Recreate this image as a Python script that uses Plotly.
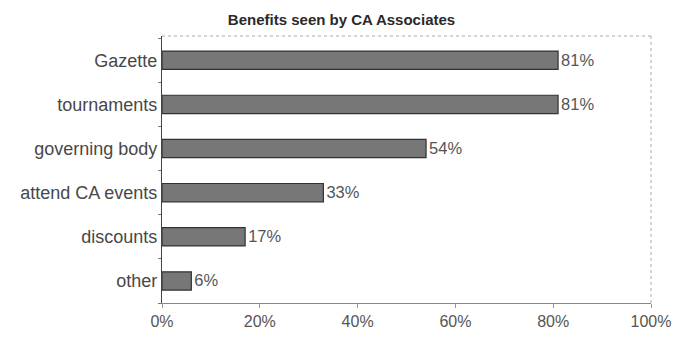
import plotly.graph_objects as go

categories = ["Gazette", "tournaments", "governing body", "attend CA events", "discounts", "other"]
values = [81, 81, 54, 33, 17, 6]
x_ticks = [0, 20, 40, 60, 80, 100]
x_tick_labels = ["0%", "20%", "40%", "60%", "80%", "100%"]

font_family = "Liberation Sans, Arial, sans-serif"

fig = go.Figure(
    go.Bar(
        y=categories,
        x=values,
        orientation="h",
        marker=dict(color="#777777", line=dict(color="#333333", width=1.2)),
        text=[f"{v}%" for v in values],
        textposition="outside",
        textfont=dict(family=font_family, size=18, color="#555555"),
        cliponaxis=False,
    )
)

fig.update_layout(
    width=683,
    height=342,
    margin=dict(l=162, r=28, t=36, b=29),
    paper_bgcolor="white",
    plot_bgcolor="white",
    bargap=0.585,
    showlegend=False,
    title=dict(
        text="<b>Benefits seen by CA Associates</b>",
        x=0.5,
        xanchor="center",
        y=1 - 20 / 342,
        yanchor="middle",
        font=dict(family=font_family, size=15, color="#2a2a2a"),
    ),
    font=dict(family=font_family, color="#444444"),
)

fig.update_xaxes(
    range=[0, 100],
    tickvals=x_ticks,
    ticktext=x_tick_labels,
    tickfont=dict(size=16, color="#555555"),
    showgrid=False,
    zeroline=False,
    showline=True,
    linecolor="#888888",
    linewidth=1,
    mirror=False,
    ticks="outside",
    ticklen=4,
    tickcolor="#999999",
    fixedrange=True,
)

fig.update_yaxes(
    categoryorder="array",
    categoryarray=categories[::-1],
    range=[-0.5, 5.55],
    tickfont=dict(size=18, color="#484848"),
    showgrid=False,
    zeroline=False,
    showline=True,
    linecolor="#444444",
    linewidth=1.2,
    mirror=False,
    ticks="outside",
    tickson="boundaries",
    ticklen=3,
    tickcolor="#777777",
    ticklabelstandoff=0,
    fixedrange=True,
)

# dashed frame on the top and right sides of the plot area
fig.add_shape(type="line", xref="paper", yref="paper", x0=0, x1=1, y0=1, y1=1,
              line=dict(color="#aaaaaa", width=1, dash="dot"))
fig.add_shape(type="line", xref="paper", yref="paper", x0=1, x1=1, y0=0, y1=1,
              line=dict(color="#aaaaaa", width=1, dash="dot"))

fig.write_html("out.html")
